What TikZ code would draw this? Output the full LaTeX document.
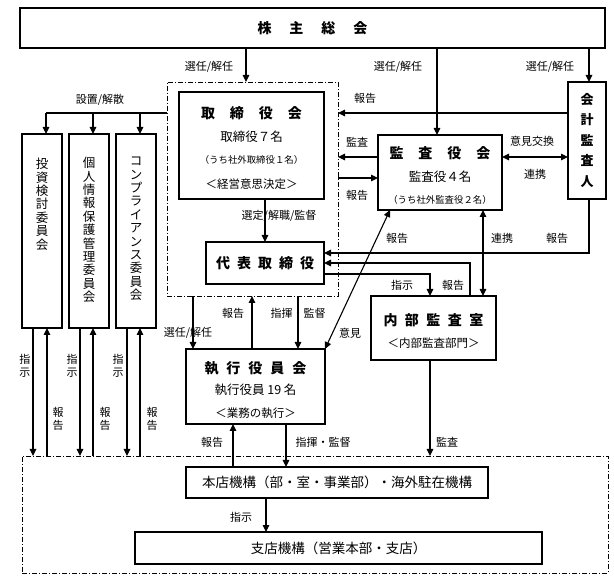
\documentclass[tikz,border=0pt]{standalone}
\usepackage{fontspec}
\setmainfont{Noto Sans CJK JP}
\usetikzlibrary{arrows.meta}
\newcommand\tsp[1]{\hspace{#1pt}}
\tikzset{
 box/.style={draw, line width=1.1pt, inner sep=0pt, outer sep=0pt},
 grp/.style={draw, line width=0.8pt, dash pattern=on 5pt off 2pt on 1pt off 2pt, inner sep=0pt, outer sep=0pt},
 arr/.style={line width=1.1pt, -{Triangle[length=7pt,width=6.5pt]}},
 darr/.style={line width=1.1pt, {Triangle[length=7pt,width=6.5pt]}-{Triangle[length=7pt,width=6.5pt]}},
 ln/.style={line width=1.1pt},
 lbl/.style={font=\fontsize{11}{12.5}\selectfont, inner sep=0pt, align=center},
 ttl/.style={font=\fontsize{14}{16}\selectfont\bfseries, inner sep=0pt},
 sub/.style={font=\fontsize{12.5}{14}\selectfont, inner sep=0pt},
 sm/.style={font=\fontsize{9.4}{11}\selectfont, inner sep=0pt},
 brk/.style={font=\fontsize{11.5}{13}\selectfont, inner sep=0pt},
 vtxt/.style={font=\fontsize{12.5}{13.4}\selectfont, inner sep=0pt, align=center, anchor=north},
}
\begin{document}
\begin{tikzpicture}[x=1pt,y=-1pt]
\useasboundingbox (0,0) rectangle (614,580);
% groups
\node[grp, minimum width=171pt, minimum height=214pt] (brd) at (252.5,189) {};
\node[grp, minimum width=586pt, minimum height=117pt] (low) at (315,514.5) {};
% boxes
\node[box, minimum width=585pt, minimum height=40pt, font=\fontsize{14}{16}\selectfont\bfseries] (sh) at (312.5,28) {株\tsp{18}主\tsp{18}総\tsp{18}会};
\node[box, minimum width=145pt, minimum height=107pt] (tb) at (251.5,145.5) {};
\node[ttl] (tbt) at (251.5,113) {取\tsp{15}締\tsp{15}役\tsp{15}会};
\node[sub] (tb2) at (251.5,137) {取締役７名};
\node[sm]  (tb3) at (251.5,160) {（うち社外取締役１名）};
\node[brk] (tb4) at (251.5,184) {＜経営意思決定＞};
\node[box, minimum width=118pt, minimum height=42pt, font=\fontsize{14}{16}\selectfont\bfseries] (rep) at (265,263) {代\tsp{7}表\tsp{7}取\tsp{7}締\tsp{7}役};
\node[box, minimum width=124pt, minimum height=75pt] (kan) at (440,172.5) {};
\node[ttl] (kant) at (440,153) {監\tsp{15}査\tsp{15}役\tsp{15}会};
\node[sub] (kan2) at (440,177) {監査役４名};
\node[sm]  (kan3) at (440,200) {（うち社外監査役２名）};
\node[box, minimum width=38pt, minimum height=117pt, align=center, font=\fontsize{13}{20.5}\selectfont\bfseries] (ca) at (587,140.5) {会\\計\\監\\査\\人};
\node[box, minimum width=125pt, minimum height=64pt] (ia) at (433.5,328) {};
\node[ttl] (iat) at (433.5,320) {内\tsp{7.5}部\tsp{7.5}監\tsp{7.5}査\tsp{7.5}室};
\node[brk] (ia2) at (433.5,343) {＜内部監査部門＞};
\node[box, minimum width=139pt, minimum height=75pt] (ex) at (255.5,386.5) {};
\node[ttl] (ext) at (255.5,368) {執\tsp{8}行\tsp{8}役\tsp{8}員\tsp{8}会};
\node[sub] (ex2) at (255.5,390) {執行役員 19 名};
\node[brk] (ex3) at (255.5,413) {＜業務の執行＞};
\node[box, minimum width=40pt, minimum height=194pt] (c1) at (42,231) {};
\node[box, minimum width=40pt, minimum height=194pt] (c2) at (89,231) {};
\node[box, minimum width=40pt, minimum height=194pt] (c3) at (136,231) {};
\node[vtxt] (c1t) at (42,158) {投\\資\\検\\討\\委\\員\\会};
\node[vtxt] (c2t) at (89,157) {個\\人\\情\\報\\保\\護\\管\\理\\委\\員\\会};
\node[vtxt] (c3t) at (136,157) {コ\\ン\\プ\\ラ\\イ\\ア\\ン\\ス\\委\\員\\会};
\node[box, minimum width=302pt, minimum height=31pt, font=\fontsize{13.5}{15}\selectfont] (hq) at (337,482.5) {本店機構（部・室・事業部）・海外駐在機構};
\node[box, minimum width=407pt, minimum height=32pt, font=\fontsize{13.5}{15}\selectfont] (br) at (338.5,548) {支店機構（営業本部・支店）};
% connectors top
\draw[arr] (sh.south -| 246,0) -- (brd.north -| 246,0);
\draw[arr] (sh.south -| 437,0) -- (kan.north -| 437,0);
\draw[arr] (sh.south -| 589,0) -- (ca.north -| 589,0);
\draw[arr] (ca.west |- 0,113) -- (brd.east |- 0,113);
\draw[arr] (kan.west |- 0,157) -- (brd.east |- 0,157);
\draw[arr] (brd.east |- 0,178) -- (kan.west |- 0,178);
\draw[darr] (kan.east |- 0,157) -- (ca.west |- 0,157);
\draw[arr] (ca.south -| 589,0) |- (rep.east |- 0,253);
\draw[darr] (kan.south -| 483,0) -- (ia.north -| 483,0);
\draw[arr] (ia.north -| 470,0) |- (rep.east |- 0,263);
\draw[arr] (rep.east |- 0,274) -| (ia.north -| 430,0);
\draw[arr] (tb.south -| rep.north) -- (rep.north);
\draw[darr] (ex.north east) -- (kan.south -| 390,0);
\draw[arr] (brd.south -| 193,0) -- (ex.north -| 193,0);
\draw[arr] (ex.north -| 252,0) -- (brd.south -| 252,0);
\draw[arr] (brd.south -| 298,0) -- (ex.north -| 298,0);
\draw[arr] (ia.south -| 430,0) -- (low.north -| 430,0);
\draw[arr] (hq.north -| 233,0) -- (ex.south -| 233,0);
\draw[arr] (ex.south -| 286,0) -- (hq.north -| 286,0);
\draw[arr] (hq.south -| 266,0) -- (br.north -| 266,0);
% committees
\coordinate (sp1) at (46,113);
\coordinate (sp2) at (93,113);
\coordinate (sp3) at (140,113);
\draw[ln] (brd.west |- sp1) -- (sp1);
\draw[arr] (sp1) -- (c1.north -| sp1);
\draw[arr] (sp2) -- (c2.north -| sp2);
\draw[arr] (sp3) -- (c3.north -| sp3);
\draw[arr] (c1.south -| 33,0) -- (low.north -| 33,0);
\draw[arr] (low.north -| 47,0) -- (c1.south -| 47,0);
\draw[arr] (c2.south -| 80,0) -- (low.north -| 80,0);
\draw[arr] (low.north -| 93,0) -- (c2.south -| 93,0);
\draw[arr] (c3.south -| 127,0) -- (low.north -| 127,0);
\draw[arr] (low.north -| 140,0) -- (c3.south -| 140,0);
% labels
\node[lbl] (l1) at (209,67) {選任/解任};
\node[lbl] (l2) at (398,67) {選任/解任};
\node[lbl] (l3) at (550,67) {選任/解任};
\node[lbl] (l4) at (100,100) {設置/解散};
\node[lbl] (l5) at (365,98) {報告};
\node[lbl] (l6) at (357,142) {監査};
\node[lbl] (l7) at (357,195) {報告};
\node[lbl] (l8) at (532,141) {意見交換};
\node[lbl] (l9) at (535,174) {連携};
\node[lbl] (l10) at (557,238) {報告};
\node[lbl] (l11) at (502,238) {連携};
\node[lbl] (l12) at (397,238) {報告};
\node[lbl] (l13) at (279,216) {選定/解職/監督};
\node[lbl] (l14) at (402,285) {指示};
\node[lbl] (l15) at (453,285) {報告};
\node[lbl] (l16) at (188,333) {選任/解任};
\node[lbl] (l17) at (233,313) {報告};
\node[lbl] (l18) at (298,313) {指揮・監督};
\node[lbl] (l19) at (350,333) {意見};
\node[lbl] (l20) at (212,442) {報告};
\node[lbl] (l21) at (323,442) {指揮・監督};
\node[lbl] (l22) at (447,442) {監査};
\node[lbl] (l23) at (241,517) {指示};
\node[lbl] (v1) at (25,366) {指\\示};
\node[lbl] (v2) at (72,366) {指\\示};
\node[lbl] (v3) at (118,366) {指\\示};
\node[lbl] (v4) at (58,419) {報\\告};
\node[lbl] (v5) at (105,419) {報\\告};
\node[lbl] (v6) at (152,419) {報\\告};
\end{tikzpicture}
\end{document}
